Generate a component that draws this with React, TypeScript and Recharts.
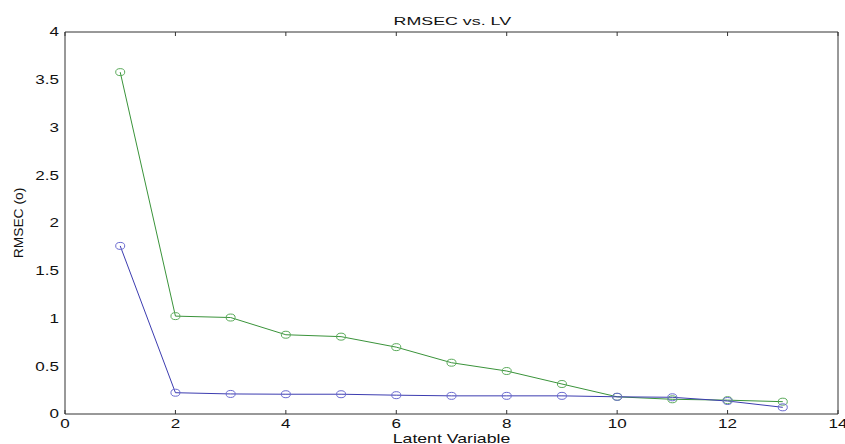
import { LineChart, Line, XAxis, YAxis, Label } from "recharts";

const latentVariables = [1, 2, 3, 4, 5, 6, 7, 8, 9, 10, 11, 12, 13];
const rmsecBlue = [1.76, 0.223, 0.21, 0.207, 0.207, 0.197, 0.19, 0.19, 0.19, 0.18, 0.175, 0.136, 0.07];
const rmsecGreen = [3.58, 1.025, 1.01, 0.83, 0.81, 0.7, 0.537, 0.45, 0.314, 0.18, 0.154, 0.145, 0.129];
const xTicks = [0, 2, 4, 6, 8, 10, 12, 14];
const yTicks = [0, 0.5, 1, 1.5, 2, 2.5, 3, 3.5, 4];

const data = latentVariables.map((lv, i) => ({
  lv,
  blue: rmsecBlue[i],
  green: rmsecGreen[i],
}));

const FONT = "'Liberation Sans', Arial, sans-serif";
const AXIS = "#333";
const INK = "#111";
// the reference's Helvetica renders much wider than Liberation Sans
const WIDE = 1.42;
const noLabel = () => "";

const XTick = (props: any) => {
  const { x, y, payload } = props;
  return (
    <text
      transform={`translate(${x},${y}) scale(${WIDE},1)`}
      textAnchor="middle"
      dy="0.71em"
      fontFamily={FONT}
      fontSize={12}
      fill={INK}
    >
      {String(payload.value)}
    </text>
  );
};

const YTick = (props: any) => {
  const { x, y, payload } = props;
  return (
    <text
      transform={`translate(${x},${y}) scale(${WIDE},1)`}
      textAnchor="end"
      dy="0.355em"
      fontFamily={FONT}
      fontSize={12}
      fill={INK}
    >
      {String(payload.value)}
    </text>
  );
};

const circleDot = (color: string) => (props: any) => {
  const { cx, cy, index } = props;
  if (cx == null || cy == null) return <g key={index} />;
  return (
    <ellipse
      key={index}
      cx={cx}
      cy={cy}
      rx={4.5}
      ry={3.5}
      fill="none"
      stroke={color}
      strokeWidth={1}
    />
  );
};

// mirrored axes take no room, so they only add the inward tick marks and the box
const xDomain: [number, number] = [0, 14];
const yDomain: [number, number] = [0, 4];

export default function App() {
  return (
    <div style={{ position: "absolute", left: 0, top: 0, width: 845, height: 444, background: "#fff" }}>
      <div
        style={{
          position: "absolute",
          left: 65,
          width: 773,
          top: 15,
          textAlign: "center",
          fontFamily: FONT,
          fontSize: 11.5,
          lineHeight: "13px",
          color: INK,
          transform: "scaleX(1.55)",
          transformOrigin: "385px 0",
        }}
      >
        RMSEC vs. LV
      </div>
      <LineChart
        width={845}
        height={444}
        data={data}
        margin={{ top: 32, right: 7, bottom: 0, left: 5 }}
      >
        <XAxis
          xAxisId="bottom"
          dataKey="lv"
          type="number"
          domain={xDomain}
          ticks={xTicks}
          interval={0}
          height={30}
          tickSize={0}
          tickMargin={5}
          tick={<XTick />}
          axisLine={{ stroke: AXIS }}
          tickLine={false}
        >
          <Label
            content={({ viewBox }: any) => {
              const cx = viewBox.x + viewBox.width / 2;
              return (
                <text
                  transform={`translate(${cx},442.5) scale(1.36,1)`}
                  textAnchor="middle"
                  fontFamily={FONT}
                  fontSize={13}
                  fill={INK}
                >
                  Latent Variable
                </text>
              );
            }}
          />
        </XAxis>
        <XAxis
          xAxisId="bottomTicks"
          dataKey="lv"
          type="number"
          domain={xDomain}
          ticks={xTicks}
          interval={0}
          height={1}
          mirror
          tickSize={4}
          tickFormatter={noLabel}
          axisLine={false}
          tickLine={{ stroke: AXIS }}
        />
        <XAxis
          xAxisId="top"
          dataKey="lv"
          type="number"
          orientation="top"
          domain={xDomain}
          ticks={xTicks}
          interval={0}
          height={1}
          mirror
          tickSize={4}
          tickFormatter={noLabel}
          axisLine={{ stroke: AXIS }}
          tickLine={{ stroke: AXIS }}
        />
        <YAxis
          yAxisId="left"
          type="number"
          domain={yDomain}
          ticks={yTicks}
          interval={0}
          width={60}
          tickSize={0}
          tickMargin={6}
          tick={<YTick />}
          axisLine={{ stroke: AXIS }}
          tickLine={false}
        >
          <Label
            content={({ viewBox }: any) => {
              const cx = viewBox.x + 14;
              const cy = viewBox.y + viewBox.height / 2;
              return (
                <text
                  transform={`translate(${cx},${cy}) rotate(-90) scale(1.15,1)`}
                  textAnchor="middle"
                  dominantBaseline="central"
                  fontFamily={FONT}
                  fontSize={12}
                  fill={INK}
                >
                  RMSEC (o)
                </text>
              );
            }}
          />
        </YAxis>
        <YAxis
          yAxisId="leftTicks"
          type="number"
          domain={yDomain}
          ticks={yTicks}
          interval={0}
          width={1}
          mirror
          tickSize={4}
          tickFormatter={noLabel}
          axisLine={false}
          tickLine={{ stroke: AXIS }}
        />
        <YAxis
          yAxisId="right"
          type="number"
          orientation="right"
          domain={yDomain}
          ticks={yTicks}
          interval={0}
          width={1}
          mirror
          tickSize={4}
          tickFormatter={noLabel}
          axisLine={{ stroke: AXIS }}
          tickLine={{ stroke: AXIS }}
        />
        <Line
          xAxisId="bottom"
          yAxisId="left"
          dataKey="green"
          stroke="#3a933a"
          strokeWidth={1}
          dot={circleDot("#5aaa5a")}
          activeDot={false}
          isAnimationActive={false}
        />
        <Line
          xAxisId="bottom"
          yAxisId="left"
          dataKey="blue"
          stroke="#3c3cb0"
          strokeWidth={1}
          dot={circleDot("#6a6ad0")}
          activeDot={false}
          isAnimationActive={false}
        />
      </LineChart>
    </div>
  );
}
